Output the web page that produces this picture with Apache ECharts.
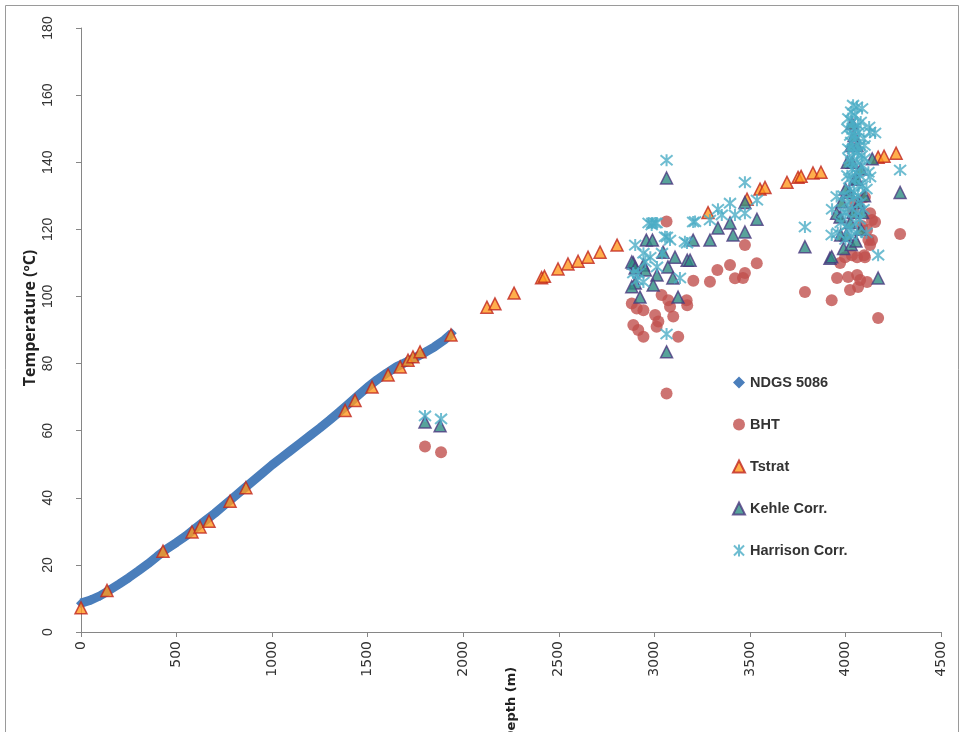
<!DOCTYPE html>
<html>
<head>
<meta charset="utf-8">
<script src="https://cdn.jsdelivr.net/npm/echarts@6/dist/echarts.min.js"></script>
<style>
html,body{margin:0;padding:0;background:#fff;}
#chart{width:961px;height:732px;}
</style>
</head>
<body>
<div id="chart"></div>
<script>
// ---- Data ----
const xTicks = [0,500,1000,1500,2000,2500,3000,3500,4000,4500];
const yTicks = [0,20,40,60,80,100,120,140,160,180];
const xTitle = 'Depth (m)';
const yTitle = 'Temperature (ºC)';

const ndgsDepth = [0,50,100,150,200,250,300,350,400,450,500,550,600,650,700,750,800,850,900,950,1000,1050,1100,1150,1200,1250,1300,1350,1400,1450,1500,1550,1600,1650,1700,1750,1800,1850,1900,1940];
const ndgsTemp  = [8.6,9.5,10.8,12.5,14.3,16.2,18.2,20.3,22.6,24.8,26.7,28.7,31,33.2,35.4,37.8,40.2,42.6,45,47.4,49.8,52,54.2,56.4,58.6,60.8,63.1,65.5,68,70.5,73,75.2,77.2,79,80.4,81.8,83.3,85,87,89];

const bhtDepth = [1800,1884,3064,2882,2908,2943,2890,2916,2943,3004,3021,3012,3038,3073,3082,3099,3125,3169,3172,3204,3291,3330,3396,3422,3064,3474,3536,3474,3464,3788,
  3928,3956,3972,3998,4014,4024,4034,4061,4061,4066,4077,4102,4113,4113,4139,4155,4139,4171,4286,4120,4129,4129,4040,4102,4050,4087,4098];
const bhtTemp  = [55.3,53.6,122.3,97.9,96.4,95.9,91.5,90,88,94.5,92.5,91,100.4,98.9,96.9,94,88,98.9,97.4,104.7,104.4,107.9,109.4,105.4,71.1,115.3,109.9,107,105.5,101.3,
  98.9,105.5,110,111.7,105.8,101.9,112.3,111.7,106.4,102.8,104.9,111.7,104.3,119.8,122.8,122.2,116.8,93.6,118.6,116.8,115.3,124.8,125.7,129.6,128,121,112.3];

const tstratDepth = [0,136,429,581,623,670,780,863,1382,1434,1523,1607,1670,1711,1737,1774,1936,2124,2166,2266,2410,2425,2496,2548,2601,2653,2716,2805,3281,3485,3553,3579,3694,3752,3768,3830,3872,4171,4202,4265];
const tstratTemp  = [7.2,12.4,24.1,29.8,31.3,33,39,43,66,69,73,76.6,79,81,82,83.5,88.5,96.8,97.8,101,105.6,106,108.2,109.7,110.5,111.7,113.2,115.3,125,129,132,132.5,134,135.5,135.8,136.8,137,141.5,141.8,142.7];

const kehleDepth = [1800,1879,3064,3064,2958,2990,3203,3291,3046,3108,3172,2890,2943,2953,3014,3071,3097,2900,2994,3124,2925,2882,2900,2882,3396,
  3474,3537,3333,3412,3474,3788,3187,
  3919,3928,3954,3972,3980,3975,4005,3990,4030,4055,4080,4040,4070,4020,4050,4035,4060,4035,4080,4100,4171,4286,4140,
  4010,4030,4045,4060,4025,4090,4000];
const kehleTemp  = [62.6,61.5,135.3,83.5,116.8,116.8,116.8,116.8,113.2,111.7,110.8,110,109.4,107.9,106.4,108.8,105.5,104,103.4,99.8,99.8,110.3,108.5,102.9,121.9,
  128,123,120.4,118.3,119.2,114.8,110.8,
  111.4,111.8,124.8,123.7,128.2,118.3,118.3,114.3,115.5,116.5,120,125,128,131,135,140,145,151.6,138,130,105.5,131,141,
  140,145,148,135,122,125,132];

const harrDepth = [1800,1884,3064,3064,2989,2970,3005,3066,3082,3203,3171,2900,2943,2979,3040,2890,3014,3134,2910,2943,2986,3012,3213,3353,3056,3160,2953,2916,
  3474,3537,3396,3333,3474,3422,3291,3788,
  4040,4060,4087,4050,4035,4065,4124,4155,4129,4050,4030,4075,4045,4020,4060,4035,4090,4010,4050,4070,4025,4129,4286,3990,4040,4080,3954,3930,4000,4060,3975,4020,3928,4171,4110,4000,3960,4100,4010,4085,
  4015,4030,4045,4055,4070,4080,4025,4040,4065,4095,4015,4030,4055,4075,4100,4020,4045,4065,4090,4010,4035,4055,4075,4095,4005,4030,4060,3990,4110,4120];
const harrTemp  = [64.4,63.5,140.6,88.8,121.9,121.9,121.9,117.7,116.8,122.2,115.9,115.3,112.9,111.7,112.9,107,108.8,105.5,104.9,104.3,121.3,121.9,122.3,124.3,117.8,116.3,110.3,106.9,
  134,128.7,127.8,126,124.8,124.3,122.8,120.7,
  157,156.5,156,154,152,151,150.5,148.7,149,148,146,145,143,141,140,138,139,136,135,133,132,135.6,137.7,130,129,128,129.8,126,125,125,122,120,118.3,112.3,119,117,119,145,150,142,
  153,155,150,147,149,152,148,144,143,147,144,140,137,136,141,135,131,130,133,128,126,122,123,126,121,118,119,125,132,137];

function pairs(xs, ys){ return xs.map((x,i)=>[x, ys[i]]); }

const starPath = 'path://M5,0L5,10M0.8,0.8L9.2,9.2M0.8,9.2L9.2,0.8';

const chart = echarts.init(document.getElementById('chart'));
const axisLine = {lineStyle:{color:'#868686', width:1}};
chart.setOption({
  backgroundColor:'#fff',
  animation:false,
  grid:{left:81, right:20, top:28, bottom:100, containLabel:false, outerBoundsMode:'none'},
  xAxis:{
    type:'value', min:xTicks[0], max:xTicks[xTicks.length-1], interval:xTicks[1]-xTicks[0],
    axisLine:{show:true, onZero:false, ...axisLine},
    axisTick:{show:true, length:5, lineStyle:{color:'#868686'}},
    splitLine:{show:false},
    axisLabel:{rotate:90, margin:9, fontFamily:'DejaVu Sans', fontSize:14, color:'#333', formatter:v=>String(v)}
  },
  yAxis:{
    type:'value', min:yTicks[0], max:yTicks[yTicks.length-1], interval:yTicks[1]-yTicks[0],
    axisLine:{show:true, onZero:false, ...axisLine},
    axisTick:{show:true, length:5, lineStyle:{color:'#868686'}},
    splitLine:{show:false},
    axisLabel:{rotate:90, margin:26, fontFamily:'Liberation Sans', fontSize:14, color:'#333', formatter:v=>String(v)}
  },
  legend:{
    orient:'vertical', left:727, top:370, itemGap:27, itemWidth:12, itemHeight:12,
    textStyle:{fontFamily:'Liberation Sans', fontWeight:'bold', fontSize:14.5, color:'#333'},
    data:[
      {name:'NDGS 5086', icon:'diamond'},
      {name:'BHT', icon:'circle'},
      {name:'Tstrat', icon:'triangle'},
      {name:'Kehle Corr.', icon:'triangle'},
      {name:'Harrison Corr.', icon:starPath}
    ]
  },
  graphic:[
    {type:'rect', shape:{x:5.5,y:5.5,width:953,height:760}, style:{fill:'none', stroke:'#9a9a9a', lineWidth:1}, silent:true, z:-1},
    {type:'text', x:30, y:318, rotation:Math.PI/2, style:{text:yTitle, align:'center', verticalAlign:'middle', fontFamily:'Open Sans', fontWeight:'bold', fontSize:16, fill:'#222'}},
    {type:'text', x:512, y:704, rotation:Math.PI/2, style:{text:xTitle, align:'center', verticalAlign:'middle', fontFamily:'DejaVu Sans', fontWeight:'bold', fontSize:13, fill:'#222'}}
  ],
  series:[
    {name:'NDGS 5086', type:'line', data:pairs(ndgsDepth, ndgsTemp), symbol:'diamond', symbolSize:10, showAllSymbol:true,
     itemStyle:{color:'#4A7EBB'}, lineStyle:{color:'#4A7EBB', width:9}, z:2},
    {name:'BHT', type:'scatter', data:pairs(bhtDepth, bhtTemp), symbol:'circle', symbolSize:12,
     itemStyle:{color:'#C0504D'}, z:3},
    {name:'Tstrat', type:'scatter', data:pairs(tstratDepth, tstratTemp), symbol:'triangle', symbolSize:12,
     itemStyle:{color:'#FF9A1F', borderColor:'#C0261E', borderWidth:1.5}, z:4},
    {name:'Kehle Corr.', type:'scatter', data:pairs(kehleDepth, kehleTemp), symbol:'triangle', symbolSize:12,
     itemStyle:{color:'#2E8C82', borderColor:'#4B3A80', borderWidth:1.5}, z:5},
    {name:'Harrison Corr.', type:'scatter', data:pairs(harrDepth, harrTemp), symbol:starPath, symbolSize:12,
     itemStyle:{color:'rgba(0,0,0,0)', borderColor:'#4BACC6', borderWidth:2}, z:6}
  ]
});
</script>
</body>
</html>
